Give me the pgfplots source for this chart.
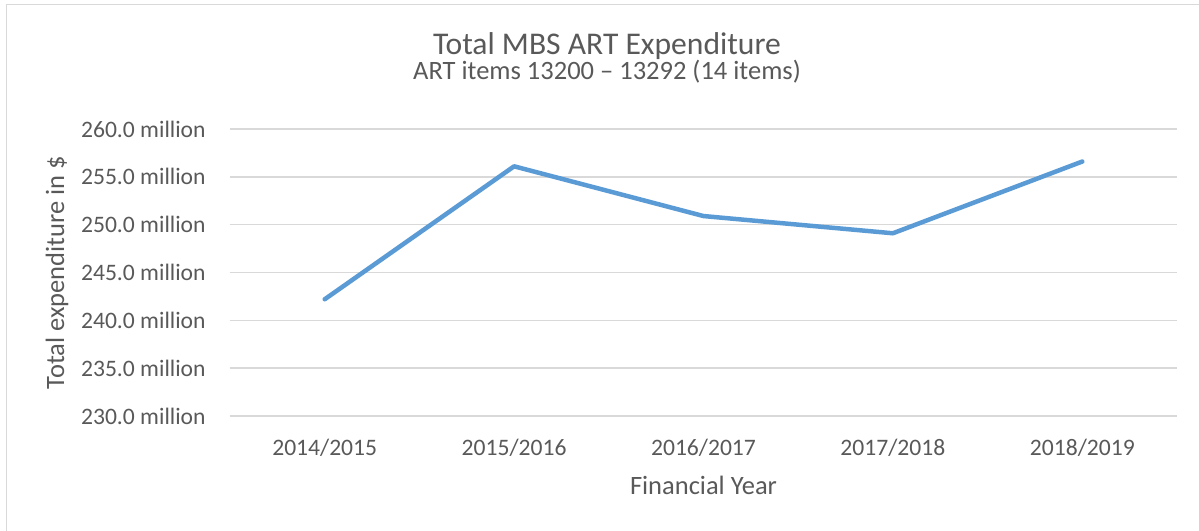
\documentclass[border=0pt]{standalone}
\usepackage{pgfplots}
\pgfplotsset{compat=1.18}
\usepackage{fontspec}
\setmainfont{Carlito}
\definecolor{txt}{HTML}{595959}
\definecolor{grid}{HTML}{D9D9D9}
\definecolor{line}{HTML}{5B9BD5}
\begin{document}
\begin{tikzpicture}
\begin{axis}[
  scale only axis,
  width=473.5pt, height=143.5pt,
  xmin=-0.5, xmax=4.5,
  ymin=230, ymax=260,
  xtick={0,1,2,3,4},
  xticklabels={2014/2015,2015/2016,2016/2017,2017/2018,2018/2019},
  ytick={230,235,240,245,250,255,260},
  yticklabels={230.0 million,235.0 million,240.0 million,245.0 million,250.0 million,255.0 million,260.0 million},
  axis line style={draw=none},
  major tick length=0pt,
  ymajorgrids,
  grid style={draw=grid, line width=0.75pt},
  xticklabel style={font=\fontsize{11.8pt}{14pt}\selectfont, text=txt, anchor=base, inner sep=0pt, yshift=-19.5pt},
  yticklabel style={font=\fontsize{11.8pt}{14pt}\selectfont, text=txt, anchor=east, inner sep=0pt, xshift=-12pt},
  clip=false,
]
\addplot[color=line, line width=2.25pt, line join=round, line cap=round] coordinates {
  (0,242.2) (1,256.1) (2,250.9) (3,249.1) (4,256.6)
};
\end{axis}
\draw[grid, line width=0.75pt] (-111.65pt,-80pt) rectangle (500pt,205.85pt);
\node[anchor=base, text=txt, font=\fontsize{15.8pt}{19pt}\selectfont, inner sep=0pt] at (188.5pt,180.5pt) {Total MBS ART Expenditure};
\node[anchor=base, text=txt, font=\fontsize{13.25pt}{16pt}\selectfont, inner sep=0pt] at (188.5pt,168pt) {ART items 13200 – 13292 (14 items)};
\node[anchor=base, text=txt, font=\fontsize{13.25pt}{16pt}\selectfont, inner sep=0pt] at (236.75pt,-39pt) {Financial Year};
\node[rotate=90, text=txt, font=\fontsize{13.25pt}{16pt}\selectfont, inner sep=0pt] at (-86.5pt,71.75pt) {Total expenditure in \$};
\pgfresetboundingbox
\path[use as bounding box] (-115pt,-57pt) rectangle (484.5pt,208pt);
\end{tikzpicture}
\end{document}
